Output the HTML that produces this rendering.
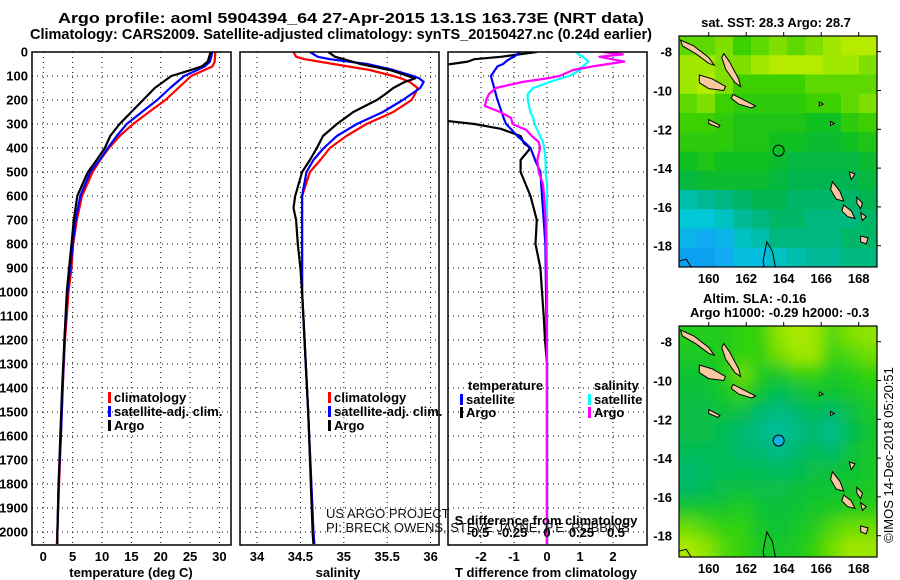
<!DOCTYPE html>
<html><head><meta charset="utf-8"><style>
html,body{margin:0;padding:0;background:#fff;width:900px;height:580px;overflow:hidden}
svg{display:block;font-family:"Liberation Sans",sans-serif}
.b{font-weight:bold}
</style></head><body>
<svg id="s" width="900" height="580" viewBox="0 0 900 580" xmlns="http://www.w3.org/2000/svg">
<defs>
<clipPath id="c1"><rect x="32" y="52" width="199" height="493"/></clipPath>
<clipPath id="c2"><rect x="240" y="52" width="199" height="493"/></clipPath>
<clipPath id="c3"><rect x="448" y="52" width="199" height="493"/></clipPath>
<clipPath id="cm1"><rect x="679" y="36" width="198" height="231"/></clipPath>
<clipPath id="cm2"><rect x="679" y="326" width="198" height="231"/></clipPath>
<filter id="blur" x="-5%" y="-5%" width="110%" height="110%"><feGaussianBlur stdDeviation="7"/></filter>
</defs>
<text class="b" x="351" y="23" font-size="15" text-anchor="middle" textLength="586" lengthAdjust="spacingAndGlyphs">Argo profile: aoml 5904394_64 27-Apr-2015 13.1S 163.73E (NRT data)</text>
<text class="b" x="341" y="39" font-size="15" text-anchor="middle" textLength="622" lengthAdjust="spacingAndGlyphs">Climatology: CARS2009. Satellite-adjusted climatology: synTS_20150427.nc (0.24d earlier)</text>
<g id="grid"></g>
<g id="series"></g>
<g id="frames"></g>
<g id="maps"></g>
<g id="labels"></g>
</svg>
<script>
// ---------- profile data ----------
const tDepth = [0,40,60,80,100,150,200,250,300,350,400,450,500,600,700,800,900,1000,1200,1400,1600,1800,2000,2050];
const tClim  = [29.3,29.2,28.8,27.0,25.2,23.0,20.8,18.0,15.3,13.0,11.2,9.7,8.4,6.6,5.7,5.1,4.8,4.3,3.7,3.3,3.0,2.7,2.4,2.3];
const tSat   = [28.8,28.4,27.5,25.8,24.0,21.6,19.4,16.8,14.2,12.5,11.0,9.6,8.0,6.3,5.5,5.0,4.6,4.1,3.6,3.3,3.0,2.6,2.4,2.4];
const tArgo  = [28.5,28.0,27.0,24.5,21.8,19.0,17.0,15.0,13.0,11.4,10.5,9.1,7.6,5.8,5.2,4.8,4.4,4.0,3.6,3.2,2.9,2.6,2.4,2.4];
const sDepth = [0,20,30,50,75,100,110,125,150,175,200,250,300,350,400,450,500,600,650,700,800,900,1000,1500,2000,2050];
const sClim  = [34.42,34.45,34.55,34.88,35.30,35.57,35.66,35.76,35.85,35.82,35.78,35.57,35.26,35.03,34.84,34.73,34.61,34.52,34.52,34.52,34.52,34.52,34.52,34.59,34.65,34.66];
const sSat   = [34.61,34.70,34.84,35.27,35.57,35.80,35.87,35.92,35.88,35.78,35.68,35.45,35.15,34.92,34.77,34.65,34.57,34.52,34.52,34.52,34.52,34.52,34.52,34.59,34.65,34.66];
const sArgo  = [34.82,34.90,35.00,35.19,35.53,35.74,35.82,35.70,35.57,35.48,35.38,35.11,34.92,34.76,34.69,34.61,34.52,34.44,34.42,34.45,34.47,34.50,34.52,34.59,34.64,34.65];
const dDepth = [0,20,30,40,50,60,100,200,280,300,320,350,380,400,450,500,600,700,800,900,1000,1100,1200,1300,2000,2050];
const dTArgo = [-0.31,-1.4,-2.2,-2.4,-2.9,-3.5,-3.5,-3.5,-3.5,-2.2,-1.4,-0.8,-0.7,-0.5,-0.8,-0.8,-0.5,-0.31,-0.35,-0.2,-0.15,-0.1,-0.06,0,0,0];
const dTSat  = [-0.82,-1.0,-1.15,-1.25,-1.33,-1.5,-1.7,-1.5,-1.3,-1.24,-1.1,-0.9,-0.65,-0.5,-0.36,-0.2,-0.15,-0.1,-0.05,-0.04,-0.03,-0.02,-0.01,0,0,0];
const sdDepth = [0,10,20,40,60,75,100,110,125,150,175,200,225,250,275,300,325,350,375,400,450,500,550,600,700,1000,2050];
const dSArgo = [0.41,0.55,0.38,0.56,0.33,0.19,0.09,0.0,-0.18,-0.37,-0.42,-0.44,-0.45,-0.34,-0.26,-0.25,-0.15,-0.11,-0.06,-0.05,-0.07,-0.06,-0.03,-0.02,-0.01,0,0];
const dSSat  = [0.21,0.23,0.26,0.30,0.26,0.24,0.16,0.10,0.02,-0.10,-0.14,-0.14,-0.13,-0.12,-0.10,-0.09,-0.07,-0.05,-0.03,-0.02,-0.01,-0.01,0,0,0,0,0];
const depthTicks = [0,100,200,300,400,500,600,700,800,900,1000,1100,1200,1300,1400,1500,1600,1700,1800,1900,2000];
const tTicks = [0,5,10,15,20,25,30];
const sTicks = [34,34.5,35,35.5,36];
const sTickLabels = ["34","34.5","35","35.5","36"];
const dTTicks = [-2,-1,0,1,2];
const dSTicks = [-0.5,-0.25,0,0.25,0.5];
const dSTickLabels = ["-0.5","-0.25","0","0.25","0.5"];
// ---------- map data ----------
const lonTicks = [160,162,164,166,168];
const latTicks = [-8,-10,-12,-14,-16,-18];
const sstGrid = [
[28.7,28.7,28.8,28.6,28.7,28.8,28.7,28.8,28.9,29.0,29.0],
[28.9,28.9,28.8,28.8,28.9,29.0,29.0,29.0,28.9,28.9,28.8],
[28.9,29.0,28.8,28.6,28.6,28.6,28.6,28.7,28.7,28.7,28.7],
[28.7,28.8,28.6,28.5,28.5,28.5,28.5,28.6,28.6,28.7,28.8],
[28.6,28.6,28.5,28.4,28.4,28.4,28.4,28.3,28.3,28.5,28.6],
[28.5,28.5,28.5,28.4,28.4,28.3,28.3,28.2,28.2,28.3,28.4],
[28.3,28.4,28.3,28.3,28.3,28.2,28.1,28.1,28.1,28.1,28.2],
[28.1,28.2,28.2,28.2,28.2,28.1,28.0,28.0,28.0,28.0,28.1],
[27.6,27.7,27.8,27.9,28.0,28.0,27.9,27.9,27.9,27.9,28.0],
[27.4,27.4,27.5,27.7,27.8,27.9,27.9,27.8,27.8,27.8,27.9],
[27.2,27.1,27.2,27.5,27.6,27.8,27.8,27.8,27.8,27.9,27.9],
[27.0,27.0,27.1,27.3,27.3,27.5,27.6,27.7,27.7,27.8,27.8]];
const slaGrid = [
[-0.12,-0.12,-0.12,-0.10,-0.10,-0.04,-0.02,-0.03,-0.08,-0.05,-0.04],
[-0.13,-0.13,-0.12,-0.10,-0.10,-0.06,-0.03,-0.03,-0.10,-0.08,-0.06],
[-0.15,-0.15,-0.12,-0.06,-0.12,-0.14,-0.10,-0.10,-0.13,-0.12,-0.10],
[-0.16,-0.16,-0.14,-0.10,-0.15,-0.18,-0.17,-0.15,-0.15,-0.14,-0.12],
[-0.17,-0.17,-0.16,-0.17,-0.20,-0.22,-0.20,-0.18,-0.20,-0.17,-0.14],
[-0.17,-0.17,-0.18,-0.20,-0.22,-0.24,-0.22,-0.20,-0.23,-0.18,-0.15],
[-0.18,-0.18,-0.18,-0.20,-0.20,-0.22,-0.20,-0.18,-0.20,-0.16,-0.14],
[-0.20,-0.19,-0.18,-0.18,-0.18,-0.19,-0.18,-0.17,-0.16,-0.15,-0.14],
[-0.19,-0.18,-0.17,-0.16,-0.17,-0.17,-0.16,-0.15,-0.15,-0.14,-0.13],
[-0.14,-0.14,-0.14,-0.12,-0.15,-0.16,-0.15,-0.14,-0.13,-0.12,-0.11],
[-0.06,-0.08,-0.10,-0.10,-0.14,-0.15,-0.14,-0.12,-0.08,-0.06,-0.06],
[-0.02,-0.04,-0.08,-0.10,-0.13,-0.14,-0.13,-0.10,-0.06,-0.03,-0.03]];
const argoLon = 163.73, argoLat = -13.1;

const NS="http://www.w3.org/2000/svg";
function mk(parent,tag,attrs){const e=document.createElementNS(NS,tag);for(const k in attrs)e.setAttribute(k,attrs[k]);parent.appendChild(e);return e;}
const G=document.getElementById('grid'),S=document.getElementById('series'),F=document.getElementById('frames'),M=document.getElementById('maps'),L=document.getElementById('labels');
const yD=d=>52+0.24*d;
const xT=v=>43.3+5.87*v;
const xS=v=>257+86.8*(v-34);
const xDT=v=>547+33*v;
const xDS=v=>547+138*v;
const panels=[[32,'c1'],[240,'c2'],[448,'c3']];
// grids
panels.forEach(([px],i)=>{
  depthTicks.forEach(d=>{
    const l=mk(G,'line',{x1:px,x2:px+199,y1:yD(d),y2:yD(d),stroke:'#000','stroke-width':1,'stroke-dasharray':'1,4'});
    
    
  });
  const xs=i==0?tTicks.map(xT):i==1?sTicks.map(xS):dTTicks.map(xDT);
  xs.forEach(x=>{
    const l=mk(G,'line',{x1:x,x2:x,y1:52,y2:545,stroke:'#000','stroke-width':1,'stroke-dasharray':'1,4'});
    
    
  });
  const r=mk(F,'rect',{x:px,y:52,width:199,height:493,fill:'none',stroke:'#000','stroke-width':1.5});
  
  
});
function line(clip,xs,ys,col,name,w){
  const pts=xs.map((x,i)=>x.toFixed(1)+','+ys[i].toFixed(1)).join(' ');
  const p=mk(S,'polyline',{points:pts,fill:'none',stroke:col,'stroke-width':w||2.2,'clip-path':'url(#'+clip+')','stroke-linejoin':'round'});
  
  
}
line('c1',tClim.map(xT),tDepth.map(yD),'#f00','temperature-climatology-line');
line('c1',tSat.map(xT),tDepth.map(yD),'#00f','temperature-satellite-line');
line('c1',tArgo.map(xT),tDepth.map(yD),'#000','temperature-argo-line');
line('c2',sClim.map(xS),sDepth.map(yD),'#f00','salinity-climatology-line');
line('c2',sSat.map(xS),sDepth.map(yD),'#00f','salinity-satellite-line');
line('c2',sArgo.map(xS),sDepth.map(yD),'#000','salinity-argo-line');
line('c3',dTArgo.map(xDT),dDepth.map(yD),'#000','t-diff-argo-line');
line('c3',dTSat.map(xDT),dDepth.map(yD),'#00f','t-diff-satellite-line');
line('c3',dSSat.map(xDS),sdDepth.map(yD),'#0ff','s-diff-satellite-line');
line('c3',dSArgo.map(xDS),sdDepth.map(yD),'#f0f','s-diff-argo-line');
function txt(x,y,s,opts){const t=mk(L,'text',Object.assign({x:x,y:y,'font-size':12,'font-weight':'bold'},opts||{}));t.textContent=s;return t;}
depthTicks.forEach(d=>{
  const t=txt(28,yD(d)+4.5,String(d),{'text-anchor':'end','font-size':13});
  
  
});
tTicks.forEach(v=>{const t=txt(xT(v),561,String(v),{'text-anchor':'middle','font-size':13});
  
  });
sTicks.forEach((v,i)=>{const t=txt(xS(v),561,sTickLabels[i],{'text-anchor':'middle','font-size':13});
  
  });
dTTicks.forEach(v=>{const t=txt(xDT(v),561,String(v),{'text-anchor':'middle','font-size':13});
  
  });
dSTicks.forEach((v,i)=>{const t=txt(xDS(v),537,dSTickLabels[i],{'text-anchor':'middle','font-size':13});
  
  });
let t;
t=txt(131,577,'temperature (deg C)',{'text-anchor':'middle','font-size':13});


t=txt(338,577,'salinity',{'text-anchor':'middle','font-size':13});


t=txt(546,577,'T difference from climatology',{'text-anchor':'middle','font-size':13});


t=txt(546,525,'S difference from climatology',{'text-anchor':'middle','font-size':13});


t=txt(326,518,'US ARGO PROJECT',{'font-weight':'normal','font-size':13,fill:'#111'});


t=txt(326,532,'PI: BRECK OWENS, STEVE JAYNE, P.E. ROBBINS',{'font-weight':'normal','font-size':13,fill:'#111'});


// legends
function leg(x,y,col,s,name){
  const r=mk(L,'rect',{x:x,y:y-10,width:3,height:11,fill:col});
  
  
  const tt=txt(x+6,y,s,{'font-size':13});
  
  
}
[[32,108],[240,328]].forEach(([px,lx])=>{
  leg(lx,402,'#f00','climatology','legend-climatology');
  leg(lx,416,'#00f','satellite-adj. clim.','legend-satellite-adj');
  leg(lx,430,'#000','Argo','legend-argo');
});
t=txt(468,390,'temperature',{'font-size':13});
t=txt(594,390,'salinity',{'font-size':13});
leg(460,404,'#00f','satellite','legend-t-satellite');
leg(460,417,'#000','Argo','legend-t-argo');
leg(588,404,'#0ff','satellite','legend-s-satellite');
leg(588,417,'#f0f','Argo','legend-s-argo');
// ---------- maps ----------
function interp(stops,v){
  if(v<=stops[0][0])return stops[0][1];
  for(let i=1;i<stops.length;i++){if(v<=stops[i][0]){const[a,ca]=stops[i-1],[b,cb]=stops[i];const f=(v-a)/(b-a);
    return 'rgb('+ca.map((c,k)=>Math.round(c+(cb[k]-c)*f)).join(',')+')';}}
  const c=stops[stops.length-1][1];return 'rgb('+c.join(',')+')';
}
function toRgb(c){return typeof c==='string'?c:'rgb('+c.join(',')+')';}
const sstStops=[[26.8,[0,140,240]],[27.1,[16,170,240]],[27.4,[0,200,215]],[27.7,[0,185,150]],[28.0,[0,180,80]],[28.3,[16,192,32]],[28.6,[60,208,0]],[28.9,[160,232,0]],[29.2,[225,240,0]]];
const slaStops=[[-0.25,[0,192,170]],[-0.2,[0,184,110]],[-0.15,[16,195,48]],[-0.1,[48,210,16]],[-0.05,[128,224,0]],[0,[200,240,0]]];
const mx=lon=>708.7+(lon-160)*18.75;
function drawMap(y0,grid,stops,clip,blur,lat8,name){
  const g=mk(M,'g',{'clip-path':'url(#'+clip+')'});
  
  
  const inner=mk(g,'g',blur?{filter:'url(#blur)'}:{});
  const cw=198/11,ch=231/12;
  grid.forEach((row,r)=>row.forEach((v,c)=>{
    const e=mk(inner,'rect',{x:679+c*cw-(blur?20*(c==0):0),y:y0+r*ch-(blur?20*(r==0):0),width:cw+0.6+(blur&&(c==0||c==10)?20:0),height:ch+0.6+(blur&&(r==0||r==11)?20:0),fill:toRgb(interp(stops,v))});
    
    
  }));
  const my=lat=>lat8+(-8-lat)*19.4;
  const isl=[
   [[158.5,-7.4],[159.2,-7.7],[160.0,-8.3],[160.3,-8.7],[160.0,-8.6],[159.3,-8.1],[158.6,-7.7]],
   [[160.8,-8.1],[161.1,-8.5],[161.6,-9.4],[161.7,-9.8],[161.4,-9.6],[160.9,-8.9],[160.7,-8.3]],
   [[159.5,-9.2],[160.2,-9.4],[160.9,-9.8],[160.8,-10.0],[160.0,-9.9],[159.5,-9.6]],
   [[161.3,-10.2],[161.9,-10.5],[162.5,-10.8],[162.3,-10.9],[161.6,-10.7],[161.2,-10.4]],
   [[160.0,-11.5],[160.6,-11.8],[160.5,-11.9],[160.0,-11.7]],
   [[166.6,-14.7],[167.0,-15.2],[167.2,-15.7],[166.8,-15.6],[166.5,-15.1]],
   [[167.2,-15.9],[167.6,-16.2],[167.8,-16.6],[167.4,-16.5],[167.1,-16.2]],
   [[168.1,-17.5],[168.5,-17.6],[168.4,-17.9],[168.1,-17.8]],
   [[167.9,-15.5],[168.2,-15.8],[168.1,-16.1],[167.9,-15.8]],
   [[168.1,-16.3],[168.4,-16.5],[168.2,-16.7]],
   [[167.5,-14.2],[167.8,-14.3],[167.6,-14.6]],
   [[165.9,-10.6],[166.1,-10.7],[165.9,-10.8]],
   [[166.5,-11.6],[166.7,-11.7],[166.5,-11.8]]];
  isl.forEach(p=>{
    const e=mk(g,'polygon',{points:p.map(q=>mx(q[0]).toFixed(1)+','+my(q[1]).toFixed(1)).join(' '),fill:'#f8c8a0',stroke:'#000','stroke-width':1});
    
    
  });
  const reef=mk(g,'polyline',{points:[[163.0,-19.3],[162.9,-18.8],[163.1,-17.8],[163.4,-18.3],[163.6,-19.3]].map(q=>mx(q[0])+','+my(q[1])).join(' '),fill:'none',stroke:'#000','stroke-width':1});
  
  
  const reef2=mk(g,'polyline',{points:[[158.4,-18.8],[158.8,-18.7],[159.2,-19.3]].map(q=>mx(q[0])+','+my(q[1])).join(' '),fill:'none',stroke:'#000','stroke-width':1});
  
  
  const fr=mk(M,'rect',{x:679,y:y0,width:198,height:231,fill:'none',stroke:'#000','stroke-width':1.2});
  
  
  latTicks.forEach(la=>{
    const tt=txt(672,my(la)+5,String(la),{'text-anchor':'end','font-size':13});
    
    
    mk(M,'line',{x1:877,x2:881,y1:my(la),y2:my(la),stroke:'#000'});
  });
  lonTicks.forEach(lo=>{
    const tt=txt(mx(lo),y0+231+16,String(lo),{'text-anchor':'middle','font-size':13});
    
    
    mk(M,'line',{x1:mx(lo),x2:mx(lo),y1:y0-4,y2:y0,stroke:'#000'});
  });
  return my;
}
const my1=drawMap(36,sstGrid,sstStops,'cm1',false,51.7,'sst-map');
const c1=mk(M,'circle',{cx:mx(argoLon),cy:my1(argoLat),r:5.5,fill:'none',stroke:'#000','stroke-width':1});


const my2=drawMap(326,slaGrid,slaStops,'cm2',true,341.7,'sla-map');
const c2=mk(M,'circle',{cx:mx(argoLon),cy:my2(argoLat),r:5.5,fill:'#10b0e0',stroke:'#000','stroke-width':1});


t=txt(776,27,'sat. SST: 28.3 Argo: 28.7',{'text-anchor':'middle','font-size':13});

t=txt(703,303,'Altim. SLA: -0.16',{'font-size':13});

t=txt(690,317,'Argo h1000: -0.29 h2000: -0.3',{'font-size':13});

t=txt(0,0,'©IMOS 14-Dec-2018 05:20:51',{'font-weight':'normal','font-size':13,'text-anchor':'middle',transform:'translate(893,455) rotate(-90)'});

</script>
</body></html>
